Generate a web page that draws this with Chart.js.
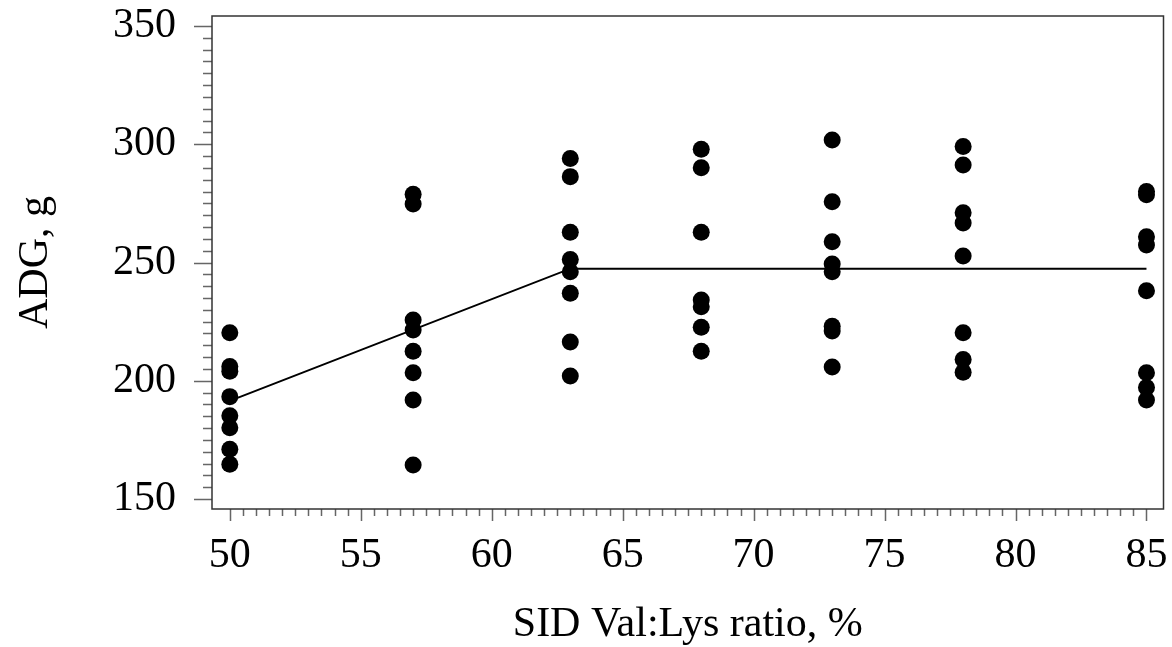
<!DOCTYPE html>
<html>
<head>
<meta charset="utf-8">
<script src="https://cdn.jsdelivr.net/npm/chart.js@4/dist/chart.umd.min.js"></script>
<style>
  html, body { margin: 0; padding: 0; background: #fff; }
  #wrap { width: 1172px; height: 647px; }
</style>
</head>
<body>
<div id="wrap"><canvas id="c" width="1172" height="647"></canvas></div>
<script>
// ---- Data ----
const ratioLevels = [50, 57, 63, 68, 73, 78, 85];
const adg50 = [220.3, 206, 204, 193.3, 185.2, 180.1, 171.1, 164.7];
const adg57 = [278.8, 274.7, 225.7, 221.5, 212.5, 203.4, 191.9, 164.4];
const adg63 = [294.0, 286.3, 262.8, 251.3, 246.1, 237.0, 216.4, 202.0];
const adg68 = [297.9, 290.1, 262.8, 234.1, 231.3, 222.6, 212.5];
const adg73 = [301.8, 275.7, 258.8, 249.4, 246.1, 223.1, 221.0, 205.8];
const adg78 = [299.0, 291.2, 271.0, 266.7, 252.7, 220.3, 209.0, 203.6];
const adg85 = [280.0, 278.6, 260.9, 257.4, 238.1, 203.4, 197.2, 191.9];
const adgByLevel = [adg50, adg57, adg63, adg68, adg73, adg78, adg85];

// broken-line fit
const fitX = [50, 63, 85];
const fitY = [191.5, 247.4, 247.4];

const xTicks = [50, 55, 60, 65, 70, 75, 80, 85];
const yTicks = [150, 200, 250, 300, 350];
const xMinorStep = 0.5;
const yMinorStep = 5;

const xTitle = 'SID Val:Lys ratio, %';
const yTitle = 'ADG, g';

// ---- build datasets ----
const scatterPts = [];
ratioLevels.forEach((lv, i) => adgByLevel[i].forEach(v => scatterPts.push({x: lv, y: v})));
const fitPts = fitX.map((x, i) => ({x: x, y: fitY[i]}));

const FONT = 'Liberation Serif';

const framePlugin = {
  id: 'frameTicks',
  afterDraw(chart) {
    const {ctx, chartArea: a, scales: {x, y}} = chart;
    const x0 = xTicks[0], x1 = xTicks[xTicks.length - 1];
    const y0 = yTicks[0], y1 = yTicks[yTicks.length - 1];
    ctx.save();
    ctx.strokeStyle = '#666';
    ctx.lineWidth = 1.5;
    ctx.beginPath();
    for (let v = x0; v <= x1 + 1e-9; v += xMinorStep) {
      const px = Math.round(x.getPixelForValue(v)) + 0.5;
      const major = xTicks.some(t => Math.abs(t - v) < 1e-6);
      ctx.moveTo(px, a.bottom);
      ctx.lineTo(px, a.bottom + (major ? 12 : 7));
    }
    for (let v = y0; v <= y1 + 1e-9; v += yMinorStep) {
      const py = Math.round(y.getPixelForValue(v)) + 0.5;
      const major = yTicks.some(t => Math.abs(t - v) < 1e-6);
      ctx.moveTo(a.left, py);
      ctx.lineTo(a.left - (major ? 18 : 9), py);
    }
    ctx.stroke();
    ctx.strokeStyle = '#333';
    ctx.lineWidth = 1.5;
    ctx.strokeRect(a.left, a.top, a.right - a.left, a.bottom - a.top);
    ctx.restore();
  }
};

new Chart(document.getElementById('c'), {
  type: 'scatter',
  data: {
    datasets: [
      {
        type: 'line',
        data: fitPts,
        borderColor: '#000',
        borderWidth: 2,
        pointRadius: 0,
        fill: false,
        tension: 0,
        order: 2
      },
      {
        data: scatterPts,
        backgroundColor: '#000',
        borderWidth: 0,
        pointRadius: 8.5,
        pointHoverRadius: 8.5,
        order: 1
      }
    ]
  },
  options: {
    responsive: false,
    animation: false,
    devicePixelRatio: 1,
    layout: { padding: { top: 16, right: 5, left: 0, bottom: 0 } },
    plugins: { legend: { display: false }, tooltip: { enabled: false } },
    scales: {
      x: {
        type: 'linear',
        min: 49.32,
        max: 85.65,
        grid: { display: false, drawTicks: false },
        border: { display: false },
        afterBuildTicks(s) { s.ticks = xTicks.map(v => ({value: v})); },
        afterFit(s) { s.height = 138; s.paddingLeft = 0; s.paddingRight = 0; },
        ticks: {
          color: '#000',
          padding: 22,
          maxRotation: 0,
          autoSkip: false,
          font: { family: FONT, size: 42 },
          callback: v => String(v)
        },
        title: {
          display: true,
          text: xTitle,
          color: '#000',
          padding: 0,
          font: { family: FONT, size: 42, lineHeight: 1.05 }
        }
      },
      y: {
        type: 'linear',
        min: 145.8,
        max: 354.2,
        grid: { display: false, drawTicks: false },
        border: { display: false },
        afterBuildTicks(s) { s.ticks = yTicks.map(v => ({value: v})); },
        afterFit(s) { s.width = 212; s.paddingTop = 0; s.paddingBottom = 0; },
        ticks: {
          color: '#000',
          padding: 36,
          autoSkip: false,
          font: { family: FONT, size: 42 },
          callback: v => String(v)
        },
        title: {
          display: true,
          text: yTitle,
          color: '#000',
          padding: { top: 11, bottom: 0 },
          font: { family: FONT, size: 42 }
        }
      }
    }
  },
  plugins: [framePlugin]
});
</script>
</body>
</html>
